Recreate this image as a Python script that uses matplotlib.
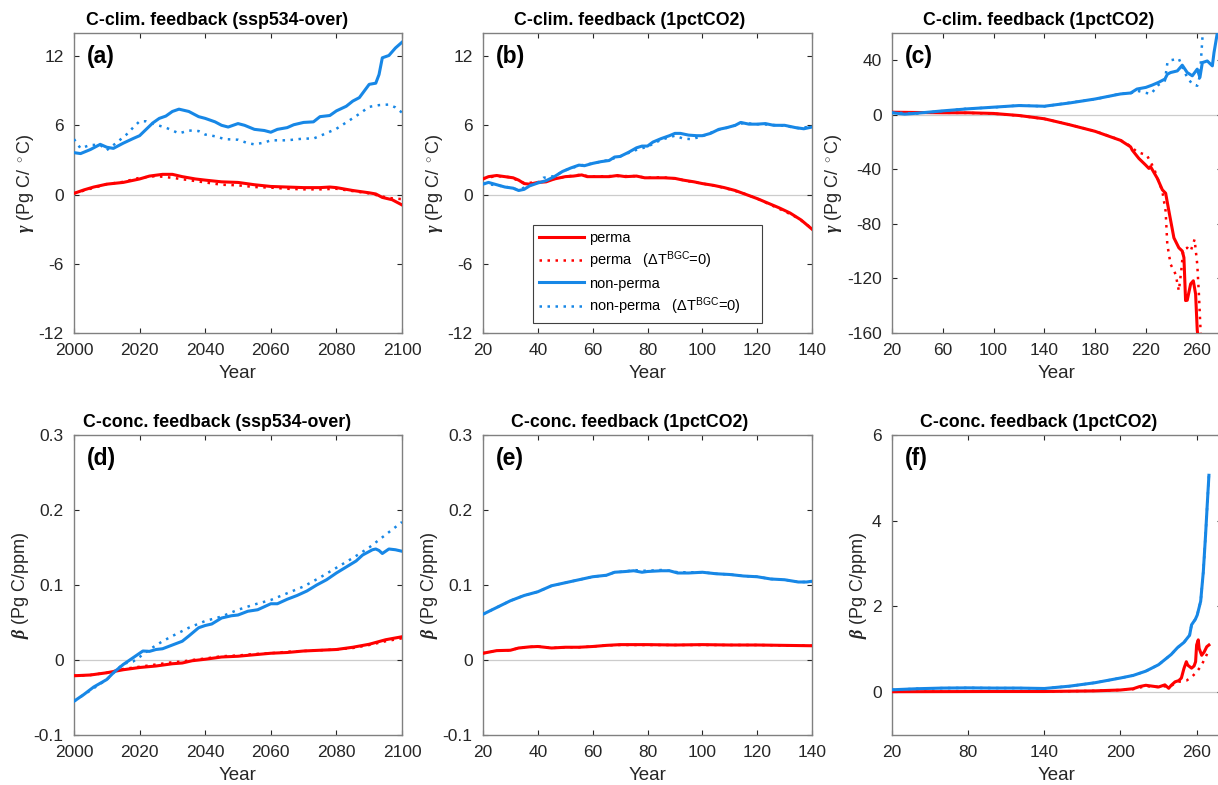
import numpy as np
import matplotlib
matplotlib.use("Agg")
import matplotlib.pyplot as plt
from matplotlib.ticker import FuncFormatter

plt.rcParams['font.family'] = ['Liberation Sans', 'DejaVu Sans']
plt.rcParams['axes.unicode_minus'] = False
plt.rcParams['mathtext.fontset'] = 'custom'
plt.rcParams['mathtext.rm'] = 'Liberation Sans'
plt.rcParams['mathtext.it'] = 'Liberation Sans:italic'
plt.rcParams['mathtext.bf'] = 'Liberation Serif:italic:bold'

RED = '#ff0000'
BLUE = '#1787e6'

# ---- panel (a): C-clim feedback, ssp534-over ----
a_blue_x = [2000, 2002, 2005, 2008, 2010, 2012, 2015, 2018, 2020, 2022, 2024, 2026, 2028, 2030,
            2032, 2035, 2038, 2040, 2043, 2045, 2047, 2050, 2052, 2055, 2058, 2060, 2062, 2065,
            2067, 2070, 2073, 2075, 2078, 2080, 2083, 2085, 2087, 2090, 2092, 2093, 2094, 2096,
            2098, 2100]
a_blue = [3.63, 3.55, 3.9, 4.35, 4.1, 4.0, 4.45, 4.85, 5.1, 5.65, 6.2, 6.6, 6.8, 7.2,
          7.4, 7.2, 6.75, 6.6, 6.3, 6.0, 5.85, 6.15, 6.0, 5.65, 5.55, 5.4, 5.65, 5.8,
          6.05, 6.25, 6.3, 6.75, 6.85, 7.25, 7.65, 8.1, 8.4, 9.55, 9.65, 10.4, 11.85, 12.05,
          12.7, 13.2]
a_blue_dot_x = [2000, 2002, 2005, 2008, 2010, 2013, 2016, 2018, 2020, 2022, 2025, 2028, 2030,
                2032, 2035, 2038, 2040, 2043, 2046, 2050, 2053, 2055, 2058, 2060, 2065, 2070,
                2073, 2076, 2080, 2083, 2086, 2090, 2093, 2096, 2098, 2100]
a_blue_dot = [4.8, 4.0, 4.3, 4.3, 3.85, 4.5, 5.2, 5.8, 6.35, 6.35, 6.05, 5.8, 5.55,
              5.3, 5.55, 5.5, 5.2, 5.05, 4.8, 4.75, 4.45, 4.35, 4.5, 4.7, 4.7, 4.85,
              4.85, 5.2, 5.7, 6.25, 6.8, 7.6, 7.75, 7.8, 7.55, 7.1]
a_red_x = [2000, 2003, 2006, 2010, 2015, 2020, 2023, 2027, 2030, 2033, 2037, 2040, 2045, 2050,
           2055, 2060, 2065, 2070, 2075, 2078, 2080, 2085, 2090, 2092, 2094, 2097, 2100]
a_red = [0.1, 0.4, 0.65, 0.9, 1.05, 1.35, 1.6, 1.75, 1.75, 1.55, 1.35, 1.25, 1.1, 1.05,
         0.85, 0.7, 0.65, 0.6, 0.6, 0.65, 0.6, 0.35, 0.15, 0.05, -0.25, -0.45, -0.9]
a_red_dot_x = [2000, 2010, 2015, 2020, 2025, 2030, 2035, 2040, 2045, 2050, 2055, 2060, 2065,
               2070, 2075, 2080, 2085, 2090, 2093, 2096, 2100]
a_red_dot = [0.1, 0.9, 1.1, 1.45, 1.6, 1.45, 1.25, 1.05, 0.85, 0.8, 0.65, 0.6, 0.5,
             0.45, 0.45, 0.5, 0.3, 0.1, -0.1, -0.3, -0.4]

# ---- panel (b): C-clim feedback, 1pctCO2 (years 20-140) ----
b_blue_x = [20, 22, 25, 28, 31, 33, 35, 37, 40, 43, 46, 49, 52, 55, 57, 60, 63, 66, 68, 70,
            73, 76, 78, 80, 82, 85, 88, 90, 92, 95, 98, 100, 103, 106, 109, 112, 114, 117,
            120, 123, 126, 130, 134, 137, 140]
b_blue = [0.9, 1.05, 0.85, 0.65, 0.55, 0.35, 0.45, 0.75, 1.0, 1.2, 1.55, 2.0, 2.3, 2.55, 2.5,
          2.7, 2.85, 2.95, 3.25, 3.3, 3.65, 4.05, 4.2, 4.2, 4.55, 4.85, 5.1, 5.3, 5.3, 5.15,
          5.1, 5.1, 5.3, 5.65, 5.8, 6.0, 6.25, 6.1, 6.1, 6.15, 6.0, 6.0, 5.8, 5.7, 5.85]
b_blue_dot_x = [20, 25, 30, 33, 37, 40, 42, 46, 50, 55, 60, 65, 70, 75, 80, 85, 90, 93, 96,
                100, 105, 110, 115, 120, 125, 130, 135, 140]
b_blue_dot = [0.95, 0.8, 0.6, 0.4, 0.8, 1.05, 1.45, 1.6, 2.1, 2.5, 2.7, 2.95, 3.3, 3.8, 4.15,
              4.75, 5.1, 4.85, 4.8, 5.05, 5.55, 5.85, 6.2, 6.1, 6.05, 5.95, 5.75, 5.9]
b_red_x = [20, 22, 25, 28, 31, 33, 35, 37, 40, 43, 46, 50, 53, 56, 58, 62, 66, 69, 72, 76,
           79, 82, 86, 90, 93, 97, 100, 104, 108, 112, 116, 120, 124, 128, 132, 136, 140]
b_red = [1.35, 1.55, 1.65, 1.55, 1.45, 1.25, 0.95, 0.9, 1.05, 1.1, 1.35, 1.55, 1.6, 1.7, 1.55,
         1.55, 1.55, 1.65, 1.55, 1.6, 1.45, 1.45, 1.45, 1.4, 1.25, 1.1, 0.95, 0.8, 0.6, 0.35,
         0.0, -0.35, -0.75, -1.15, -1.6, -2.2, -3.0]
b_red_dot_x = [20, 25, 30, 35, 40, 45, 50, 55, 60, 65, 70, 75, 80, 85, 90, 95, 100, 105,
               110, 115, 120, 125, 130, 135, 140]
b_red_dot = [1.4, 1.6, 1.5, 1.0, 1.05, 1.3, 1.55, 1.7, 1.55, 1.6, 1.6, 1.6, 1.45, 1.5, 1.4,
             1.15, 0.95, 0.75, 0.45, 0.1, -0.35, -0.9, -1.45, -2.05, -2.95]

# ---- panel (c): C-clim feedback, 1pctCO2 (full run) ----
c_blue_x = [20, 30, 40, 60, 80, 100, 120, 140, 160, 180, 200, 208, 213, 220, 225, 230, 235,
            237, 239.5, 244.8, 248.7, 252.6, 256.6, 260.5, 262.6, 264.5, 268.4, 272.4, 273.7,
            276.3, 278]
c_blue = [1.5, 0.5, 1.2, 2.9, 4.4, 5.6, 6.8, 6.3, 8.7, 11.6, 15.3, 16.0, 18.9, 20.1, 21.8,
          23.8, 26.2, 29.8, 31.0, 32.2, 36.4, 31.0, 28.6, 33.5, 27.4, 38.3, 39.5, 35.9, 45.6,
          60.0, 66.0]
c_blue_dot_x = [20, 40, 60, 80, 100, 120, 140, 160, 180, 200, 208, 213, 218, 224, 230, 235,
                237, 239.5, 246, 248.7, 252.6, 256.6, 260.5, 262.6, 264.5, 266]
c_blue_dot = [1.6, 1.0, 2.8, 4.6, 5.4, 6.9, 6.2, 8.9, 11.4, 15.5, 15.8, 17.7, 16.5, 15.3,
              22.0, 25.0, 38.3, 40.0, 41.2, 35.0, 27.4, 22.5, 21.3, 28.6, 55.3, 75.0]
c_red_x = [20, 40, 60, 80, 100, 120, 140, 160, 180, 200, 208, 209.3, 214.5, 219.8, 222.4,
           223.7, 229, 233, 235.6, 238.2, 242.1, 246, 248.7, 250, 251.3, 252.6, 255.3, 257.4,
           259.2, 260.5, 262]
c_red = [1.9, 1.7, 1.5, 1.5, 1.0, -0.5, -2.9, -7.3, -12.1, -18.7, -23.5, -25.9, -32.0, -36.8,
         -39.3, -38.0, -46.5, -55.0, -57.5, -70.8, -90.2, -97.5, -99.9, -104.7, -136.2, -136.0,
         -124.0, -121.7, -131.4, -158.0, -170.0]
c_red_dot_x = [20, 40, 60, 80, 100, 120, 140, 160, 180, 200, 208, 213, 220.8, 226.4, 233,
               235.6, 236.9, 239.5, 243.4, 246, 247.9, 249.5, 252.6, 255.3, 258.4, 260.5,
               261.8, 263.1, 264]
c_red_dot = [1.9, 1.7, 1.5, 1.4, 0.9, -0.6, -3.0, -7.2, -12.0, -18.5, -23.0, -27.2, -29.6,
             -39.3, -56.0, -70.8, -95.0, -109.6, -116.8, -129.0, -114.4, -98.7, -97.5, -100.0,
             -91.4, -109.6, -131.4, -158.0, -175.0]

# ---- panel (d): C-conc feedback, ssp534-over ----
d_blue_x = [2000, 2003, 2006, 2010, 2012, 2015, 2018, 2020, 2021, 2023, 2025, 2027, 2030, 2033,
            2035, 2038, 2040, 2042, 2045, 2048, 2050, 2053, 2056, 2060, 2062, 2065, 2068, 2071,
            2074, 2077, 2080, 2083, 2086, 2088, 2091, 2092, 2093, 2094, 2096, 2098, 2100]
d_blue = [-0.055, -0.046, -0.036, -0.026, -0.017, -0.006, 0.003, 0.009, 0.012, 0.0115, 0.014,
          0.015, 0.020, 0.025, 0.032, 0.043, 0.046, 0.048, 0.056, 0.059, 0.060, 0.065, 0.067,
          0.075, 0.075, 0.081, 0.086, 0.092, 0.100, 0.107, 0.116, 0.124, 0.132, 0.140, 0.147,
          0.148, 0.146, 0.142, 0.148, 0.147, 0.145]
d_blue_dot_x = [2000, 2010, 2015, 2018, 2020, 2023, 2027, 2030, 2035, 2040, 2045, 2050, 2055,
                2060, 2065, 2070, 2075, 2080, 2085, 2090, 2095, 2100]
d_blue_dot = [-0.055, -0.026, -0.005, -0.002, 0.004, 0.014, 0.025, 0.032, 0.043, 0.052, 0.058,
              0.067, 0.074, 0.080, 0.089, 0.098, 0.110, 0.123, 0.136, 0.150, 0.167, 0.184]
d_red_x = [2000, 2005, 2010, 2015, 2020, 2025, 2030, 2033, 2036, 2040, 2045, 2050, 2055, 2060,
           2065, 2070, 2075, 2080, 2085, 2090, 2095, 2100]
d_red = [-0.021, -0.020, -0.017, -0.013, -0.010, -0.008, -0.005, -0.004, -0.001, 0.001, 0.004,
         0.005, 0.007, 0.009, 0.010, 0.012, 0.013, 0.014, 0.017, 0.021, 0.027, 0.031]
d_red_dot = [-0.021, -0.020, -0.017, -0.012, -0.009, -0.006, -0.003, -0.002, 0.000, 0.002,
             0.005, 0.006, 0.008, 0.009, 0.011, 0.012, 0.013, 0.014, 0.016, 0.020, 0.025, 0.029]

# ---- panel (e): C-conc feedback, 1pctCO2 (years 20-140) ----
e_blue_x = [20, 25, 30, 35, 40, 45, 50, 55, 60, 65, 68, 72, 75, 78, 80, 85, 88, 91, 95, 100,
            105, 110, 115, 120, 125, 130, 135, 138, 140]
e_blue = [0.061, 0.070, 0.079, 0.086, 0.091, 0.099, 0.103, 0.107, 0.111, 0.113, 0.117, 0.118,
          0.119, 0.117, 0.118, 0.119, 0.119, 0.116, 0.116, 0.117, 0.115, 0.114, 0.112, 0.111,
          0.108, 0.107, 0.104, 0.104, 0.105]
e_blue_dot = [0.061, 0.070, 0.079, 0.086, 0.091, 0.099, 0.103, 0.107, 0.111, 0.113, 0.117,
              0.118, 0.120, 0.119, 0.119, 0.120, 0.119, 0.117, 0.117, 0.117, 0.115, 0.114,
              0.112, 0.111, 0.108, 0.107, 0.104, 0.104, 0.105]
e_red_x = [20, 25, 30, 33, 37, 40, 45, 50, 55, 60, 65, 70, 80, 90, 100, 110, 120, 130, 140]
e_red = [0.009, 0.0125, 0.013, 0.016, 0.0175, 0.018, 0.016, 0.017, 0.017, 0.018, 0.0195,
         0.0205, 0.0205, 0.020, 0.0205, 0.020, 0.020, 0.0195, 0.019]
e_red_dot = [0.009, 0.0125, 0.013, 0.016, 0.0175, 0.018, 0.016, 0.017, 0.017, 0.018, 0.0195,
             0.020, 0.020, 0.020, 0.020, 0.020, 0.020, 0.0195, 0.019]

# ---- panel (f): C-conc feedback, 1pctCO2 (full run) ----
f_blue_x = [20, 40, 60, 80, 100, 120, 140, 160, 180, 200, 210, 220, 230, 240, 245, 250, 254.5,
            256, 259, 260.5, 263.2, 265.3, 267.1, 268.4, 269.7]
f_blue = [0.055, 0.08, 0.095, 0.10, 0.095, 0.095, 0.085, 0.14, 0.22, 0.33, 0.39, 0.49, 0.64,
          0.88, 1.04, 1.16, 1.33, 1.57, 1.7, 1.8, 2.12, 2.82, 3.69, 4.39, 5.06]
f_red_x = [20, 100, 140, 180, 200, 210, 215, 220, 225, 230, 235, 238, 240, 243, 246, 248, 250,
           251.9, 253, 256, 258, 259.2, 260, 261.3, 262, 264, 266, 268, 269.7]
f_red = [0.01, 0.015, 0.015, 0.03, 0.05, 0.08, 0.13, 0.16, 0.14, 0.12, 0.17, 0.09, 0.16, 0.24,
         0.27, 0.33, 0.55, 0.71, 0.63, 0.56, 0.61, 0.71, 1.1, 1.22, 1.02, 0.86, 0.94, 1.06, 1.1]
f_red_dot_x = [20, 100, 140, 180, 200, 210, 220, 230, 240, 245, 248, 252, 256, 260, 263, 266,
               269]
f_red_dot = [0.01, 0.015, 0.015, 0.03, 0.05, 0.07, 0.14, 0.12, 0.15, 0.24, 0.25, 0.27, 0.35,
             0.47, 0.59, 0.75, 0.94]

W, H = 1218, 785
fig = plt.figure(figsize=(W / 100, H / 100), dpi=100)


def box(l, t, w, h):
    return [l / W, 1 - (t + h) / H, w / W, h / H]


axes = {
    'a': fig.add_axes(box(74, 33, 328, 300)),
    'b': fig.add_axes(box(483, 33, 329, 300)),
    'c': fig.add_axes(box(892, 33, 330, 300)),
    'd': fig.add_axes(box(74, 435, 328, 300)),
    'e': fig.add_axes(box(483, 435, 329, 300)),
    'f': fig.add_axes(box(892, 435, 330, 300)),
}

lw_s, lw_d = 2.2, 1.8


def draw(ax, rx, r, rdx, rd, bx, b, bdx, bd):
    ax.axhline(0, color='#cccccc', lw=0.9, zorder=1)
    h1, = ax.plot(rx, r, color=RED, lw=lw_s, zorder=3)
    h2, = ax.plot(rdx, rd, color=RED, lw=lw_d, ls=(0, (1, 2.2)), zorder=3)
    h3, = ax.plot(bx, b, color=BLUE, lw=lw_s, zorder=3)
    h4, = ax.plot(bdx, bd, color=BLUE, lw=lw_d, ls=(0, (1, 2.2)), zorder=3)
    return [h1, h2, h3, h4]


draw(axes['a'], a_red_x, a_red, a_red_dot_x, a_red_dot, a_blue_x, a_blue, a_blue_dot_x, a_blue_dot)
handles = draw(axes['b'], b_red_x, b_red, b_red_dot_x, b_red_dot, b_blue_x, b_blue, b_blue_dot_x, b_blue_dot)
draw(axes['c'], c_red_x, c_red, c_red_dot_x, c_red_dot, c_blue_x, c_blue, c_blue_dot_x, c_blue_dot)
draw(axes['d'], d_red_x, d_red, d_red_x, d_red_dot, d_blue_x, d_blue, d_blue_dot_x, d_blue_dot)
draw(axes['e'], e_red_x, e_red, e_red_x, e_red_dot, e_blue_x, e_blue, e_blue_x, e_blue_dot)
draw(axes['f'], f_red_x, f_red, f_red_dot_x, f_red_dot, f_blue_x, f_blue, f_blue_x, f_blue)

titles = {
    'a': 'C-clim. feedback (ssp534-over)',
    'b': 'C-clim. feedback (1pctCO2)',
    'c': 'C-clim. feedback (1pctCO2)',
    'd': 'C-conc. feedback (ssp534-over)',
    'e': 'C-conc. feedback (1pctCO2)',
    'f': 'C-conc. feedback (1pctCO2)',
}
# titles sit a bit left of the axes centre in the original
title_x = {'a': 0.436, 'b': 0.447, 'c': 0.445, 'd': 0.436, 'e': 0.447, 'f': 0.445}
gamma_label = r'$\mathbf{\gamma}$ (Pg C/ $^\circ$C)'
beta_label = r'$\mathbf{\beta}$ (Pg C/ppm)'

fmt = FuncFormatter(lambda v, p: '%g' % round(v, 6))

for k, ax in axes.items():
    ax.set_title(titles[k], fontsize=12.8, fontweight='bold', pad=6, x=title_x[k])
    ax.set_xlabel('Year', fontsize=13.5, color='#262626', labelpad=5)
    ax.set_ylabel(gamma_label if k in 'abc' else beta_label, fontsize=13, color='#262626', labelpad=2)
    ax.text(0.04, 0.96, '(%s)' % k, transform=ax.transAxes, fontsize=16.5,
            fontweight='bold', va='top', ha='left')
    ax.tick_params(direction='in', top=True, right=True, length=3.5, width=0.8,
                   labelsize=12.5, colors='#262626', pad=7.5)
    for s in ax.spines.values():
        s.set_color('#808080')
        s.set_linewidth(1.0)
    ax.yaxis.set_major_formatter(fmt)
    ax.xaxis.set_major_formatter(fmt)

for k in 'ab':
    axes[k].set_ylim(-12, 14)
    axes[k].set_yticks([-12, -6, 0, 6, 12])
axes['a'].set_xlim(2000, 2100)
axes['a'].set_xticks(np.arange(2000, 2101, 20))
axes['b'].set_xlim(20, 140)
axes['b'].set_xticks(np.arange(20, 141, 20))

axes['c'].set_xlim(20, 280)
axes['c'].set_xticks(np.arange(20, 261, 40))
axes['c'].set_ylim(-160, 60)
axes['c'].set_yticks([-160, -120, -80, -40, 0, 40])

for k in 'de':
    axes[k].set_ylim(-0.1, 0.3)
    axes[k].set_yticks([-0.1, 0, 0.1, 0.2, 0.3])
axes['d'].set_xlim(2000, 2100)
axes['d'].set_xticks(np.arange(2000, 2101, 20))
axes['e'].set_xlim(20, 140)
axes['e'].set_xticks(np.arange(20, 141, 20))

axes['f'].set_xlim(20, 280)
axes['f'].set_xticks(np.arange(20, 261, 60))
axes['f'].set_ylim(-1, 6)
axes['f'].set_yticks([0, 2, 4, 6])

labels = ['perma', r'perma   ($\Delta$T$^{\mathrm{BGC}}$=0)',
          'non-perma', r'non-perma   ($\Delta$T$^{\mathrm{BGC}}$=0)']
leg = axes['b'].legend(handles, labels, loc='lower left', bbox_to_anchor=(0.152, 0.033, 0.696, 0.314),
                       mode='expand', borderaxespad=0, fontsize=10.5, handlelength=3.1,
                       fancybox=False, framealpha=1, edgecolor='#404040', borderpad=0.4,
                       labelspacing=0.35, handletextpad=0.35)
leg.get_frame().set_linewidth(0.8)

fig.savefig('out.png', dpi=100)
